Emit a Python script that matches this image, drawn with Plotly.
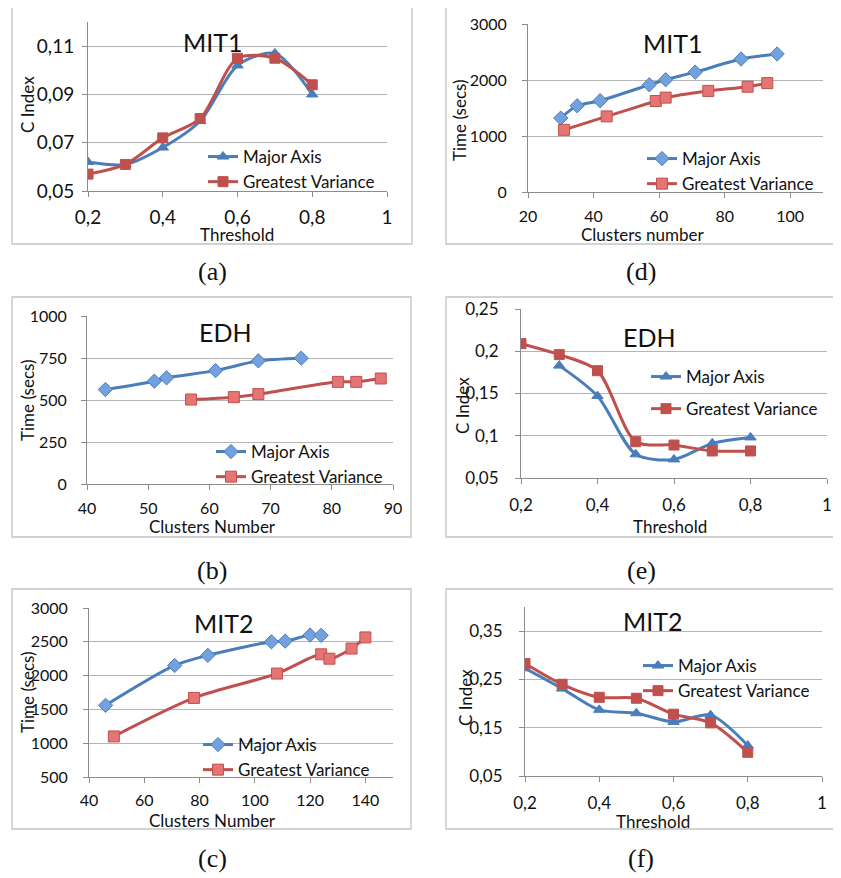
import plotly.graph_objects as go

W, H = 841, 878
OFF = 8  # page body margin of the browser

# ---------------- data ----------------
thr = [0.2, 0.3, 0.4, 0.5, 0.6, 0.7, 0.8]

# (a) MIT1 C Index
a_ma = [0.062, 0.061, 0.068, 0.079, 0.102, 0.107, 0.090]
a_gv = [0.057, 0.061, 0.072, 0.080, 0.105, 0.105, 0.094]

# (d) MIT1 time
d_ma_x = [30, 35, 42, 57, 62, 71, 85, 96]
d_ma_y = [1320, 1540, 1630, 1915, 2005, 2140, 2375, 2465]
d_gv_x = [31, 44, 59, 62, 75, 87, 93]
d_gv_y = [1110, 1350, 1625, 1685, 1805, 1880, 1945]

# (b) EDH time
b_ma_x = [43, 51, 53, 61, 68, 75]
b_ma_y = [562, 612, 632, 675, 733, 749]
b_gv_x = [57, 64, 68, 81, 84, 88]
b_gv_y = [503, 517, 535, 608, 608, 628]

# (e) EDH C Index
e_ma_x = [0.3, 0.4, 0.5, 0.6, 0.7, 0.8]
e_ma = [0.183, 0.147, 0.078, 0.072, 0.091, 0.098]
e_gv = [0.209, 0.196, 0.177, 0.093, 0.089, 0.082, 0.082]

# (c) MIT2 time
c_ma_x = [46, 71, 83, 106, 111, 120, 124]
c_ma_y = [1560, 2150, 2300, 2500, 2510, 2600, 2595]
c_gv_x = [49, 78, 108, 124, 127, 135, 140]
c_gv_y = [1100, 1670, 2030, 2315, 2250, 2400, 2565]

# (f) MIT2 C Index
f_ma = [0.273, 0.231, 0.187, 0.180, 0.162, 0.176, 0.113]
f_gv = [0.283, 0.240, 0.213, 0.211, 0.178, 0.160, 0.099]

series_names = ["Major Axis", "Greatest Variance"]

# ---------------- style ----------------
BLUE = "#4a7ebb"
BLUE_FILL = "#72a1dd"
RED = "#c0504d"
RED_FILL = "#e57474"
GRID = "#b5b5b5"
AXIS = "#8c8c8c"
FONT = "Lato"

def px_x(p):
    return (p - OFF) / W

def px_y(p):
    return 1 - (p - OFF) / H

fig = go.Figure()

# panel definitions: plot-area pixel boxes (x0, x1, y0, y1)
panels = {
    "a": dict(box=(88, 387, 22, 191), xr=[0.2, 1], xd=0.2, yr=[0.05, 0.12], y0=0.05, yd=0.02, fs=19, xs=4, ys=4),
    "d": dict(box=(528, 823, 24, 192), xr=[20, 110], xd=20, yr=[0, 3000], y0=0, yd=1000, fs=16, xs=5, ys=12),
    "b": dict(box=(87, 393, 316, 484), xr=[40, 90], xd=10, yr=[0, 1000], y0=0, yd=250, fs=16, xs=5, ys=11),
    "e": dict(box=(521, 827, 309, 478), xr=[0.2, 1], xd=0.2, yr=[0.05, 0.25], y0=0.05, yd=0.05, fs=17, xs=7, ys=13),
    "c": dict(box=(89, 393, 608, 777), xr=[40, 150], xd=20, yr=[500, 3000], y0=500, yd=500, fs=16, xs=4, ys=12),
    "f": dict(box=(525, 822, 607, 776), xr=[0.2, 1], xd=0.2, yr=[0.05, 0.40], y0=0.05, yd=0.1, fs=17, xs=7, ys=13),
}
order = ["a", "d", "b", "e", "c", "f"]

layout_axes = {}
for i, k in enumerate(order):
    p = panels[k]
    x0, x1, y0, y1 = p["box"]
    n = "" if i == 0 else str(i + 1)
    layout_axes["xaxis" + n] = dict(
        domain=[px_x(x0), px_x(x1)], range=p["xr"], dtick=p["xd"], tick0=p["xr"][0],
        anchor="y" + n, showgrid=False, zeroline=False, showline=True, linecolor=AXIS,
        linewidth=1, ticks="outside", ticklen=5, tickcolor=AXIS,
        tickfont=dict(family=FONT, size=p["fs"], color="#111"), ticklabelstandoff=p["xs"],
    )
    layout_axes["yaxis" + n] = dict(
        domain=[px_y(y1), px_y(y0)], range=p["yr"], dtick=p["yd"], tick0=p["y0"],
        anchor="x" + n, showgrid=True, gridcolor=GRID, gridwidth=1, zeroline=False,
        showline=True, linecolor=AXIS, linewidth=1, ticks="outside", ticklen=5,
        tickcolor=AXIS, tickfont=dict(family=FONT, size=p["fs"], color="#111"),
        ticklabelstandoff=p["ys"],
    )

def add_pair(idx, key, xs_ma, ys_ma, xs_gv, ys_gv, kind):
    n = "" if idx == 0 else str(idx + 1)
    leg = "legend" if idx == 0 else "legend" + str(idx + 1)
    if kind == "thr":
        m_ma = dict(symbol="triangle-up", size=10, color=BLUE, line=dict(color=BLUE, width=1))
        m_gv = dict(symbol="square", size=10, color=RED, line=dict(color=RED, width=1))
    else:
        m_ma = dict(symbol="diamond", size=11, color=BLUE_FILL, line=dict(color=BLUE, width=1))
        m_gv = dict(symbol="square", size=11, color=RED_FILL, line=dict(color=RED, width=1))
    fig.add_trace(go.Scatter(
        x=xs_ma, y=ys_ma, name=series_names[0], mode="lines+markers",
        line=dict(color=BLUE, width=3, shape="spline", smoothing=0.8), marker=m_ma,
        xaxis="x" + n, yaxis="y" + n, legend=leg, legendgroup=key + "1"))
    fig.add_trace(go.Scatter(
        x=xs_gv, y=ys_gv, name=series_names[1], mode="lines+markers",
        line=dict(color=RED, width=3, shape="spline", smoothing=0.8), marker=m_gv,
        xaxis="x" + n, yaxis="y" + n, legend=leg, legendgroup=key + "2"))

add_pair(0, "a", thr, a_ma, thr, a_gv, "thr")
add_pair(1, "d", d_ma_x, d_ma_y, d_gv_x, d_gv_y, "num")
add_pair(2, "b", b_ma_x, b_ma_y, b_gv_x, b_gv_y, "num")
add_pair(3, "e", e_ma_x, e_ma, thr, e_gv, "thr")
add_pair(4, "c", c_ma_x, c_ma_y, c_gv_x, c_gv_y, "num")
add_pair(5, "f", thr, f_ma, thr, f_gv, "thr")

# legends: (text-left x, first row center y, gap)
legend_pos = [(243, 157, 0), (682, 159, 0), (251, 452, 0), (686, 377, 7), (238, 745, 0), (678, 666, 0)]
legends = {}
for i, (tx, ty, gap) in enumerate(legend_pos):
    name = "legend" if i == 0 else "legend" + str(i + 1)
    legends[name] = dict(
        x=px_x(tx - 40), y=px_y(ty - 18), xanchor="left", yanchor="top",
        bgcolor="rgba(0,0,0,0)", borderwidth=0, traceorder="grouped", tracegroupgap=gap,
        font=dict(family=FONT, size=17, color="#111"), itemwidth=30,
    )

# frames
frames = [(12, 412, 4, 244), (446, 839, 4, 244), (12, 411, 297, 537),
          (446, 839, 297, 537), (12, 411, 589, 829), (446, 839, 589, 829)]
shapes = []
for (x0, x1, y0, y1) in frames:
    shapes.append(dict(type="rect", xref="paper", yref="paper", x0=px_x(x0), x1=px_x(x1),
                       y0=px_y(y1), y1=px_y(y0), line=dict(color="#c4c4c4", width=1.3)))

ann = []
def text(x, y, s, size, family=FONT, angle=0):
    ann.append(dict(x=px_x(x), y=px_y(y), xref="paper", yref="paper", text=s, showarrow=False,
                    xanchor="center", yanchor="middle", textangle=angle,
                    font=dict(family=family, size=size, color="#111")))

# chart titles
text(212, 42, "MIT1", 25)
text(672, 43, "MIT1", 25)
text(225, 332, "EDH", 25)
text(649, 337, "EDH", 25)
text(223, 623, "MIT2", 25)
text(652, 621, "MIT2", 25)

# axis titles
text(27, 105, "C Index", 17, angle=-90)
text(237, 234, "Threshold", 17)
text(460, 120, "Time (secs)", 17, angle=-90)
text(643, 234, "Clusters number", 17)
text(27, 400, "Time (secs)", 17, angle=-90)
text(212, 526, "Clusters Number", 17)
text(463, 405, "C Index", 17, angle=-90)
text(670, 526, "Threshold", 17)
text(27, 692, "Time (secs)", 17, angle=-90)
text(212, 820, "Clusters Number", 17)
text(465, 698, "C Index", 17, angle=-90)
text(653, 821, "Threshold", 17)

# sub-figure labels
SERIF = "Liberation Serif"
text(212, 272, "(a)", 26, SERIF)
text(641, 272, "(d)", 26, SERIF)
text(212, 570, "(b)", 26, SERIF)
text(641, 570, "(e)", 26, SERIF)
text(212, 858, "(c)", 26, SERIF)
text(641, 858, "(f)", 26, SERIF)

fig.update_layout(
    width=W, height=H, margin=dict(l=0, r=0, t=0, b=0, autoexpand=False),
    paper_bgcolor="white", plot_bgcolor="white", separators=", ",
    showlegend=True, shapes=shapes, annotations=ann,
    **layout_axes, **legends,
)

fig.write_html("out.html")
